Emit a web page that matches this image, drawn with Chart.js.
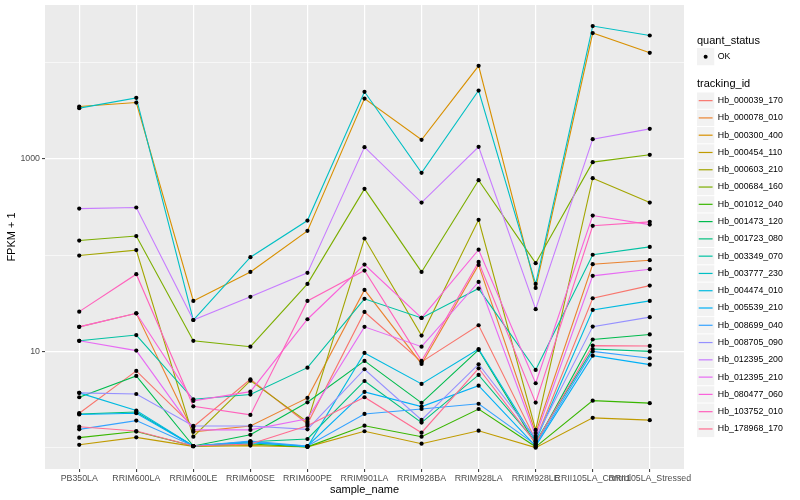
<!DOCTYPE html>
<html>
<head>
<meta charset="utf-8">
<script src="https://cdn.jsdelivr.net/npm/chart.js@4.4.1/dist/chart.umd.min.js"></script>
<style>
  html, body { margin: 0; padding: 0; background: #ffffff; }
</style>
</head>
<body>
<canvas id="fpkmChart" width="800" height="500"></canvas>
<script>
const sampleNames = ['PB350LA', 'RRIM600LA', 'RRIM600LE', 'RRIM600SE', 'RRIM600PE', 'RRIM901LA',
    'RRIM928BA', 'RRIM928LA', 'RRIM928LE', 'RRII105LA_Control', 'RRII105LA_Stressed'];

const trackingIds = ['Hb_000039_170', 'Hb_000078_010', 'Hb_000300_400', 'Hb_000454_110', 'Hb_000603_210',
    'Hb_000684_160', 'Hb_001012_040', 'Hb_001473_120', 'Hb_001723_080', 'Hb_003349_070',
    'Hb_003777_230', 'Hb_004474_010', 'Hb_005539_210', 'Hb_008699_040', 'Hb_008705_090',
    'Hb_012395_200', 'Hb_012395_210', 'Hb_080477_060', 'Hb_103752_010', 'Hb_178968_170'];

const seriesColors = ['#F8766D', '#EA8331', '#D89000', '#C09B00', '#A3A500', '#7CAE00', '#39B600',
    '#00BB4E', '#00BF7D', '#00C1A3', '#00BFC4', '#00BAE0', '#00B0F6', '#35A2FF', '#9590FF',
    '#C77CFF', '#E76BF3', '#FA62DB', '#FF62BC', '#FF6C91'];

// FPKM + 1, one value per sample
const hb000039_170 = [2.28, 6.27, 1.65, 5.14, 1.77, 25.7, 7.78, 18.7, 1.20, 35.7, 48.3];
const hb000078_010 = [18.0, 24.9, 1.46, 1.68, 3.29, 43.6, 7.41, 79.3, 1.42, 80.6, 88.7];
const hb000300_400 = [3508, 3855, 33.5, 67.0, 179, 4246, 1581, 9290, 45.7, 20320, 12680];
const hb000454_110 = [1.07, 1.28, 1.03, 1.05, 1.02, 1.48, 1.10, 1.50, 1.00, 2.04, 1.93];
const hb000603_210 = [99.1, 113, 1.30, 4.97, 1.85, 149, 14.6, 233, 1.53, 631, 352];
const hb000684_160 = [142, 158, 12.9, 11.2, 50.3, 489, 67.0, 602, 82.6, 927, 1104];
const hb001012_040 = [1.27, 1.47, 1.04, 1.09, 1.02, 1.69, 1.30, 2.52, 1.02, 3.08, 2.90];
const hb001473_120 = [3.34, 5.56, 1.04, 1.36, 2.96, 7.97, 2.92, 10.4, 1.09, 13.3, 15.0];
const hb001723_080 = [2.24, 2.35, 1.04, 1.15, 1.23, 4.93, 1.82, 5.70, 1.15, 10.6, 10.0];
const hb003349_070 = [12.9, 14.8, 3.18, 3.56, 6.78, 35.2, 22.3, 45.0, 6.42, 101, 122];
const hb003777_230 = [3373, 4315, 21.2, 95.3, 229, 4989, 718, 5140, 50.3, 24040, 19190];
const hb004474_010 = [3.71, 2.43, 1.04, 1.15, 1.02, 9.64, 4.59, 10.6, 1.17, 27.0, 33.5];
const hb005539_210 = [2.21, 2.28, 1.04, 1.12, 1.04, 3.79, 2.67, 4.41, 1.04, 9.04, 7.29];
const hb008699_040 = [1.55, 1.91, 1.04, 1.17, 1.04, 2.24, 2.52, 2.86, 1.07, 10.0, 8.49];
const hb008705_090 = [3.71, 3.61, 1.68, 1.68, 1.55, 6.53, 1.94, 7.36, 1.26, 18.1, 22.7];
const hb012395_200 = [305, 313, 21.2, 36.9, 65.5, 1327, 352, 1336, 27.5, 1607, 2056];
const hb012395_210 = [12.9, 10.2, 1.53, 1.53, 2.00, 18.0, 11.2, 52.7, 1.32, 61.0, 71.5];
const hb080477_060 = [18.0, 24.9, 3.06, 3.82, 21.6, 79.8, 22.3, 114, 4.67, 258, 208];
const hb103752_010 = [25.9, 63.5, 2.69, 2.19, 33.5, 69.2, 7.97, 85.1, 2.94, 202, 222];
const hb178968_170 = [1.65, 1.49, 1.04, 1.09, 1.69, 3.34, 1.43, 6.68, 1.12, 11.5, 11.4];

const seriesValues = [hb000039_170, hb000078_010, hb000300_400, hb000454_110, hb000603_210,
    hb000684_160, hb001012_040, hb001473_120, hb001723_080, hb003349_070,
    hb003777_230, hb004474_010, hb005539_210, hb008699_040, hb008705_090,
    hb012395_200, hb012395_210, hb080477_060, hb103752_010, hb178968_170];

const yGridValues = [1, 10, 100, 1000, 10000];
const yTickLabels = [10, 1000];

const FONT = '"Liberation Sans", Arial, Helvetica, sans-serif';

// grey panel behind the grid
const panelBg = {
    id: 'panelBg',
    beforeDraw(chart) {
        const a = chart.chartArea;
        chart.ctx.save();
        chart.ctx.fillStyle = '#EBEBEB';
        chart.ctx.fillRect(a.left, a.top, a.right - a.left, a.bottom - a.top);
        chart.ctx.restore();
    }
};

// ggplot style legends on the right
const ggLegend = {
    id: 'ggLegend',
    afterDraw(chart) {
        const ctx = chart.ctx;
        const x0 = 697, key = 17.28;
        ctx.save();
        ctx.textAlign = 'left';
        ctx.textBaseline = 'middle';
        ctx.fillStyle = '#000';
        ctx.font = '11px ' + FONT;
        ctx.fillText('quant_status', x0, 40.5);
        ctx.fillStyle = '#F2F2F2';
        ctx.fillRect(x0, 48, key, key);
        ctx.fillStyle = '#000';
        ctx.beginPath();
        ctx.arc(x0 + key / 2, 48 + key / 2, 2, 0, Math.PI * 2);
        ctx.fill();
        ctx.font = '8.8px ' + FONT;
        ctx.fillText('OK', x0 + key + 3.5, 48 + key / 2);

        ctx.font = '11px ' + FONT;
        ctx.fillText('tracking_id', x0, 84);
        const top = 92;
        trackingIds.forEach((id, i) => {
            const y = top + i * key;
            ctx.fillStyle = '#F2F2F2';
            ctx.fillRect(x0, y + 0.5, key, key - 1);
            ctx.strokeStyle = seriesColors[i];
            ctx.lineWidth = 1.2;
            ctx.beginPath();
            ctx.moveTo(x0 + 1.7, y + key / 2);
            ctx.lineTo(x0 + key - 1.7, y + key / 2);
            ctx.stroke();
            ctx.fillStyle = '#000';
            ctx.font = '8.8px ' + FONT;
            ctx.fillText(id, x0 + key + 3.5, y + key / 2);
        });
        ctx.restore();
    }
};

const lineSets = seriesValues.map((vals, i) => ({
    label: trackingIds[i],
    data: vals.map((v, j) => ({ x: j, y: v })),
    borderColor: seriesColors[i],
    backgroundColor: seriesColors[i],
    borderWidth: 1.1,
    pointRadius: 0,
    tension: 0,
    order: seriesValues.length - i
}));

const pointSet = {
    label: 'OK',
    data: seriesValues.flatMap(vals => vals.map((v, j) => ({ x: j, y: v }))),
    showLine: false,
    pointRadius: 2.1,
    pointBorderWidth: 0,
    pointBackgroundColor: '#000',
    borderColor: '#000',
    order: -1
};

const isMajorY = ctx => ctx.tick && yTickLabels.includes(ctx.tick.value);

const ctx = document.getElementById('fpkmChart').getContext('2d');
const fpkmChart = new Chart(ctx, {
    type: 'line',
    data: { datasets: [...lineSets, pointSet] },
    plugins: [panelBg, ggLegend],
    options: {
        responsive: false,
        animation: false,
        events: [],
        layout: { padding: { left: 0, top: 5, right: 116, bottom: 0 } },
        plugins: { legend: { display: false }, tooltip: { enabled: false } },
        scales: {
            x: {
                type: 'linear',
                min: -0.6,
                max: 10.6,
                afterBuildTicks: scale => {
                    scale.ticks = sampleNames.map((_, i) => ({ value: i }));
                },
                afterFit: scale => {
                    scale.height = 31;
                    scale.paddingLeft = 0;
                    scale.paddingRight = 0;
                },
                ticks: {
                    autoSkip: false,
                    maxRotation: 0,
                    minRotation: 0,
                    padding: 1,
                    color: '#4D4D4D',
                    font: { family: FONT, size: 8.8 },
                    callback: value => sampleNames[value]
                },
                grid: {
                    color: '#FFFFFF',
                    lineWidth: 1.2,
                    tickColor: '#333333',
                    tickLength: 3,
                    tickWidth: 1
                },
                border: { display: false },
                title: {
                    display: true,
                    text: 'sample_name',
                    color: '#000',
                    font: { family: FONT, size: 11 },
                    padding: { top: 0, bottom: 3.5 }
                }
            },
            y: {
                type: 'logarithmic',
                min: 0.604,
                max: 39800,
                afterBuildTicks: scale => {
                    scale.ticks = yGridValues.map(v => ({ value: v }));
                },
                afterFit: scale => {
                    scale.width = 45;
                    scale.paddingTop = 0;
                    scale.paddingBottom = 0;
                },
                ticks: {
                    padding: 2,
                    color: '#4D4D4D',
                    font: { family: FONT, size: 8.8 },
                    callback: value => yTickLabels.includes(value) ? String(value) : ''
                },
                grid: {
                    color: '#FFFFFF',
                    lineWidth: c => isMajorY(c) ? 1.2 : 0.6,
                    tickColor: c => isMajorY(c) ? '#333333' : 'rgba(0,0,0,0)',
                    tickLength: 3,
                    tickWidth: 1
                },
                border: { display: false },
                title: {
                    display: true,
                    text: 'FPKM + 1',
                    color: '#000',
                    font: { family: FONT, size: 11 },
                    padding: { top: 5, bottom: 0 }
                }
            }
        }
    }
});
</script>
</body>
</html>
